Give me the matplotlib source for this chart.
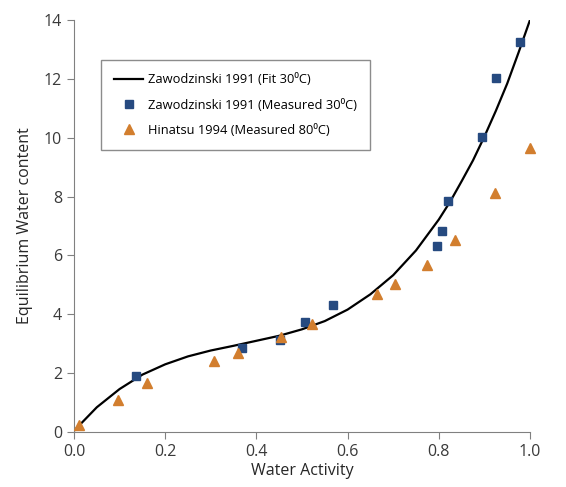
import matplotlib
matplotlib.use('Agg')
import matplotlib.pyplot as plt

plt.rcParams['font.family'] = ['Open Sans', 'DejaVu Sans']

# fit curve
fit_a = [0.0, 0.05, 0.1, 0.15, 0.2, 0.25, 0.3, 0.35, 0.4, 0.45, 0.5,
         0.55, 0.6, 0.65, 0.7, 0.75, 0.8, 0.825, 0.85, 0.875, 0.9, 0.925, 0.95, 0.975, 1.0]
fit_w = [0.04, 0.84, 1.46, 1.95, 2.30, 2.57, 2.77, 2.93, 3.10, 3.27, 3.49,
         3.77, 4.16, 4.68, 5.33, 6.17, 7.22, 7.83, 8.52, 9.23, 10.04, 10.91, 11.84, 12.90, 14.0]

# Zawodzinski 1991 measured 30C
zaw_a = [0.136, 0.368, 0.452, 0.507, 0.569, 0.797, 0.806, 0.821, 0.894, 0.925, 0.977]
zaw_w = [1.90, 2.84, 3.13, 3.75, 4.32, 6.32, 6.83, 7.85, 10.01, 12.02, 13.26]

# Hinatsu 1994 measured 80C
hin_a = [0.010, 0.096, 0.161, 0.306, 0.360, 0.453, 0.523, 0.665, 0.704, 0.775, 0.835, 0.923, 1.0]
hin_w = [0.24, 1.09, 1.65, 2.42, 2.67, 3.22, 3.66, 4.68, 5.02, 5.67, 6.52, 8.11, 9.66]

fig = plt.figure(figsize=(5.66, 4.87), dpi=100)
ax = fig.add_axes([0.1307, 0.1129, 0.8057, 0.846])

ax.plot(fit_a, fit_w, color='black', lw=1.6, label='Zawodzinski 1991 (Fit 30\u2070C)', zorder=2)
ax.plot(zaw_a, zaw_w, 's', color='#264a80', ms=6, ls='none',
        label='Zawodzinski 1991 (Measured 30\u2070C)', zorder=3, clip_on=False)
ax.plot(hin_a, hin_w, '^', color='#d27e2e', ms=6.5, ls='none',
        label='Hinatsu 1994 (Measured 80\u2070C)', zorder=3, clip_on=False)

ax.set_xlim(0, 1.0)
ax.set_ylim(0, 14)
ax.set_xticks([0, 0.2, 0.4, 0.6, 0.8, 1.0])
ax.set_xticklabels(['0.0', '0.2', '0.4', '0.6', '0.8', '1.0'])
ax.set_yticks(range(0, 15, 2))

for s in ['top', 'right']:
    ax.spines[s].set_visible(False)
for s in ['left', 'bottom']:
    ax.spines[s].set_color('#808080')
ax.tick_params(colors='#808080', labelcolor='#3a3a3a', labelsize=11.5, length=5)

ax.set_xlabel('Water Activity', fontsize=11.5, color='#262626', labelpad=2)
ax.set_ylabel('Equilibrium Water content', fontsize=11.5, color='#262626', labelpad=8)

leg = ax.legend(loc='upper left', bbox_to_anchor=(95 / 566, 1 - 54 / 487),
                bbox_transform=fig.transFigure, fontsize=9.3, frameon=True,
                fancybox=False, edgecolor='#707070', handlelength=2.2,
                handletextpad=0.4, borderpad=1.0, labelspacing=0.95)
leg.get_frame().set_linewidth(1.0)

fig.savefig('out.png', dpi=100)
